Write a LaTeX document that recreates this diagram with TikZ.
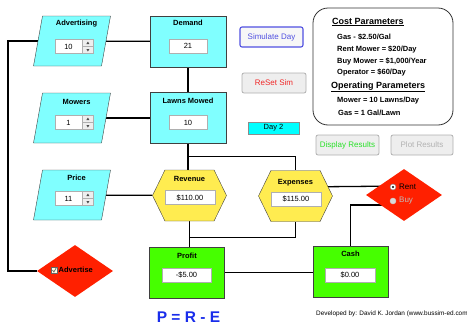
\documentclass[tikz,border=0pt]{standalone}
\usepackage{fontspec}
\setmainfont{Liberation Sans}
\usetikzlibrary{shapes.geometric,shapes.symbols,positioning,calc,backgrounds}

\definecolor{inputcyan}{RGB}{128,255,255}
\definecolor{calcyellow}{RGB}{255,236,80}
\definecolor{stockgreen}{RGB}{70,255,0}
\definecolor{choicered}{RGB}{255,32,0}
\definecolor{daycyan}{RGB}{0,255,255}
\definecolor{btngray}{RGB}{238,238,238}
\definecolor{edgegray}{RGB}{175,175,175}
\definecolor{simblue}{RGB}{80,80,225}
\definecolor{resetred}{RGB}{240,40,40}
\definecolor{dispgreen}{RGB}{40,225,40}
\definecolor{peblue}{RGB}{25,45,235}

\begin{document}
\begin{tikzpicture}[
    x=1pt, y=-1pt,
    every node/.style={
        font=\fontsize{7.5}{9}\selectfont,
        inner sep=0pt,
    },
    boxtitle/.style={font=\fontsize{7.5}{9}\selectfont\bfseries},
    inputbox/.style={rectangle, xslant=0.18, draw=black!75, fill=inputcyan,
        minimum width=68pt, minimum height=50pt},
    varbox/.style={rectangle, draw=black!75, fill=inputcyan,
        minimum width=76pt, minimum height=51pt},
    calcbox/.style={signal, signal to=west and east, signal pointer angle=128,
        draw=black!75, fill=calcyellow, minimum width=74pt, minimum height=51pt},
    stockbox/.style={rectangle, draw=black!75, fill=stockgreen,
        minimum width=75pt, minimum height=51pt},
    choice/.style={diamond, fill=choicered, minimum width=76pt, minimum height=52pt},
    field/.style={rectangle, draw=edgegray, fill=white, minimum height=14pt},
    spinbtn/.style={rectangle, draw=edgegray, fill=btngray,
        minimum width=11pt, minimum height=14pt,
        path picture={
            \draw[edgegray] (path picture bounding box.west) -- (path picture bounding box.east);
            \fill[black!70] ([yshift=5pt]path picture bounding box.center)
                -- ++(-1.5pt,-2.5pt) -- ++(3pt,0pt) -- cycle;
            \fill[black!70] ([yshift=-5pt]path picture bounding box.center)
                -- ++(-1.5pt,2.5pt) -- ++(3pt,0pt) -- cycle;
        }},
    button/.style={rectangle, rounded corners=2pt, draw=edgegray, fill=btngray,
        line width=0.8pt, minimum width=63pt, minimum height=20pt,
        font=\fontsize{8}{9}\selectfont},
    paramtext/.style={anchor=west, font=\fontsize{7.5}{9}\selectfont\bfseries},
    paramhead/.style={anchor=west, font=\fontsize{9}{11}\selectfont\bfseries},
    radio/.style={circle, draw=black!50, fill=white, minimum size=6pt},
    link/.style={line width=1.3pt},
]
    \useasboundingbox (0,0) rectangle (467,327);

    % inputs
    \node[inputbox] (adv) at (72,41) {};
    \node[boxtitle, below=4pt of adv.north] (advtitle) {Advertising};
    \node[field, minimum width=27pt] (advval) at (68.5,46.5) {10};
    \node[spinbtn, right=0pt of advval] (advspin) {};

    \node[inputbox] (mowers) at (72,118) {};
    \node[boxtitle, below=6pt of mowers.north] (mowtitle) {Mowers};
    \node[field, minimum width=27pt] (mowval) at (68.5,122.5) {1};
    \node[spinbtn, right=0pt of mowval] (mowspin) {};

    \node[inputbox] (price) at (72,195) {};
    \node[boxtitle, below=5pt of price.north] (pricetitle) {Price};
    \node[field, minimum width=27pt] (priceval) at (68.5,198.5) {11};
    \node[spinbtn, right=0pt of priceval] (pricespin) {};

    % variables
    \node[varbox] (demand) at (188,41.5) {};
    \node[boxtitle, below=4.5pt of demand.north] (demtitle) {Demand};
    \node[field, minimum width=38pt] (demval) at (188,46) {21};

    \node[varbox] (lawns) at (188,118) {};
    \node[boxtitle, below=6pt of lawns.north] (lawntitle) {Lawns Mowed};
    \node[field, minimum width=38pt] (lawnval) at (188,122.5) {10};

    \node[calcbox] (rev) at (189.5,195.5) {};
    \node[boxtitle, below=6pt of rev.north] (revtitle) {Revenue};
    \node[field, minimum width=50pt] (revval) at (190,197.5) {\$110.00};

    \node[calcbox] (exp) at (295.5,196) {};
    \node[boxtitle, below=9pt of exp.north] (exptitle) {Expenses};
    \node[field, minimum width=50pt] (expval) at (296,199) {\$115.00};

    \node[stockbox] (profit) at (187,272.5) {};
    \node[boxtitle, below=6pt of profit.north] (proftitle) {Profit};
    \node[field, minimum width=49pt] (profval) at (186.5,275) {-\$5.00};

    \node[stockbox] (cash) at (350.5,271.5) {};
    \node[boxtitle, below=5pt of cash.north] (cashtitle) {Cash};
    \node[field, minimum width=50pt] (cashval) at (350,275) {\$0.00};

    % choices
    \node[choice] (advd) at (75,271) {};
    \node[rectangle, draw=black!60, fill=yellow!10, minimum size=6pt,
        path picture={\draw[line width=0.7pt] ([xshift=-2pt]path picture bounding box.center)
            -- ++(1.4pt,-2pt) -- ++(2.4pt,4.2pt);}] (advchk) at (54.5,270) {};
    \node[boxtitle, anchor=west] (advlabel) at (58.5,270) {Advertise};

    \node[choice] (rent) at (404,195) {};
    \node[radio, path picture={\fill[black] (path picture bounding box.center) circle (1.2pt);}]
        (rentradio) at (393,187) {};
    \node[anchor=west, font=\fontsize{8}{9}\selectfont] (rentlabel) at (399,187) {Rent};
    \node[radio, draw=black!20, fill=black!15] (buyradio) at (393,201) {};
    \node[anchor=west, font=\fontsize{8}{9}\selectfont, text=black!25] (buylabel) at (399,201) {Buy};

    % controls
    \node[button, draw=simblue, fill=white!97!black, line width=1.1pt, text=simblue] (simday) at (271.5,37) {Simulate Day};
    \node[button, minimum width=64pt, text=resetred] (reset) at (274,83) {ReSet Sim};
    \node[rectangle, draw=black!45, fill=daycyan, minimum width=51pt, minimum height=12pt] (day) at (273.5,128) {Day 2};
    \node[button, text=dispgreen] (disp) at (347.5,145) {Display Results};
    \node[button, minimum width=62pt, text=black!30] (plot) at (422,145) {Plot Results};

    % parameters
    \node[rectangle, rounded corners=15pt, draw=black!80, line width=0.8pt, fill=white,
        minimum width=140pt, minimum height=117pt] (params) at (383,66.5) {};
    \node[paramhead] (costhead) at (332,22) {\underline{Cost Parameters}};
    \node[paramtext] (gascost) at (337,37) {Gas - \$2.50/Gal};
    \node[paramtext] (rentcost) at (337,49) {Rent Mower = \$20/Day};
    \node[paramtext] (buycost) at (337,61) {Buy Mower = \$1,000/Year};
    \node[paramtext] (opcost) at (337,72.5) {Operator = \$60/Day};
    \node[paramhead] (ophead) at (331,87) {\underline{Operating Parameters}};
    \node[paramtext] (mowrate) at (337,101) {Mower = 10 Lawns/Day};
    \node[paramtext] (gasrate) at (338,113) {Gas = 1 Gal/Lawn};

    \node[font=\fontsize{15.5}{17}\selectfont\bfseries, text=peblue] (pre) at (188.5,317) {P = R - E};
    \node[anchor=west, font=\fontsize{6.4}{7}\selectfont] (credit) at (316,314)
        {Developed by: David K. Jordan (www.bussim-ed.com};

    \coordinate (leftrail) at (8,0);

    % connectors
    \begin{scope}[on background layer]
        \draw[link] (adv) -- (demand);
        \draw[link] (mowers) -- (lawns);
        \draw[link] (price) -- (rev);
        \draw[link] (demand) -- (lawns);
        \draw[link] (lawns) -- (lawns |- rev.north);
        \draw[link] (lawns.south) ++(0,13) -| (exp);
        \draw[link] (lawns |- rev.north) -- (rev);
        \draw[link] (rev) -- (rev |- profit);
        \draw[link] (rev.south) ++(0,16) -| (exp);
        \draw[link] (profit) -- (profit -| cash);
        \draw[link] (adv) -- (adv -| leftrail) |- (advd);
        \draw[link] ([yshift=9pt]exp.center) -- ([yshift=9pt]rent.center);
        \draw[link] ([yshift=-10pt]rent.center) -| (cash);
    \end{scope}
\end{tikzpicture}
\end{document}
